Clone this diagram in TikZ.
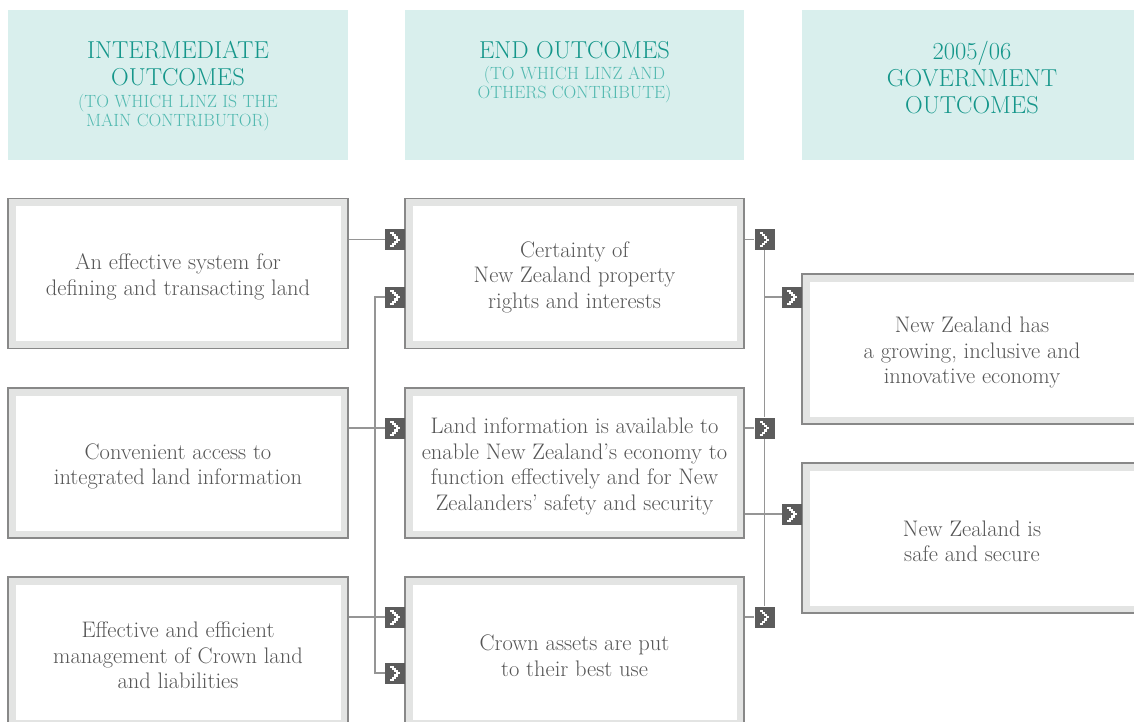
\documentclass[tikz,border=0pt]{standalone}
\usepackage{fontspec}
\usetikzlibrary{positioning}

\definecolor{headfill}{HTML}{D9EFED}
\definecolor{headtext}{HTML}{14968A}
\definecolor{subtext}{HTML}{52B9B0}
\definecolor{framegray}{HTML}{888888}
\definecolor{bandgray}{HTML}{E3E4E3}
\definecolor{bodytext}{HTML}{555555}
\definecolor{linkgray}{HTML}{959595}
\definecolor{markgray}{HTML}{5C5C5C}

\tikzset{
  header/.style={fill=headfill, minimum width=340pt, minimum height=150pt, inner sep=0pt},
  title/.style={anchor=north, inner sep=0pt, align=center, text=headtext,
    font=\fontsize{24.5}{27}\selectfont},
  subtitle/.style={anchor=north, inner sep=0pt, align=center, text=subtext,
    font=\fontsize{17.7}{19}\selectfont},
  % framed box: thin grey rule, light grey band, white inside
  outcome/.style={draw=framegray, line width=1.2pt, fill=bandgray,
    minimum width=340pt, minimum height=150pt,
    path picture={\fill[white]
      ([shift={(7.5pt,-7.5pt)}]path picture bounding box.north west) rectangle
      ([shift={(-7.5pt,7.5pt)}]path picture bounding box.south east);}},
  % the wording inside a box sits a little below its centre
  outtext/.style={align=center, text=bodytext, inner sep=0pt, yshift=-3.5pt,
    font=\fontsize{22.5}{25.5}\selectfont},
  % dark square with a stepped white chevron
  pointer/.style={fill=markgray, minimum width=20pt, minimum height=21pt, inner sep=0pt,
    path picture={\foreach \k/\dx in {0/0,1/1,2/2,3/3,4/2,5/1,6/0}
      \fill[white] ([shift={(5pt+2pt*\dx,-3pt-2.2pt*\k)}]path picture bounding box.north west)
        rectangle ++(3.5pt,-2.2pt);}},
  link/.style={draw=linkgray, line width=1.5pt}
}

\begin{document}
\begin{tikzpicture}[x=1pt, y=-1pt]
  \clip (0,0) rectangle (1134,722);

  % column headers
  \node[header] (h1) at (178,85) {};
  \node[header, minimum width=339pt] (h2) at (574.5,85) {};
  \node[header] (h3) at (972,85) {};
  \node[title, below=31pt of h1.north] (t1) {INTERMEDIATE\\OUTCOMES};
  \node[subtitle, below=84pt of h1.north] (s1) {(TO WHICH LINZ IS THE\\MAIN CONTRIBUTOR)};
  \node[title, below=31pt of h2.north] (t2) {END OUTCOMES};
  \node[subtitle, below=56.7pt of h2.north] (s2) {(TO WHICH LINZ AND\\OTHERS CONTRIBUTE)};
  \node[title, below=31pt of h3.north] (t3) {2005/06\\GOVERNMENT\\OUTCOMES};

  % intermediate outcomes
  \node[outcome] (i1) at (178,273.5) {};
  \node[outcome] (i2) at (178,463) {};
  \node[outcome] (i3) at (178,652) {};
  \node[outtext] (i1x) at (i1) {An effective system for\\defining and transacting land};
  \node[outtext] (i2x) at (i2) {Convenient access to\\integrated land information};
  \node[outtext] (i3x) at (i3) {Effective and efficient\\management of Crown land\\and liabilities};

  % end outcomes
  \node[outcome, minimum width=339pt] (e1) at (574.5,273.5) {};
  \node[outcome, minimum width=339pt] (e2) at (574.5,463) {};
  \node[outcome, minimum width=339pt] (e3) at (574.5,652) {};
  \node[outtext] (e1x) at (e1) {Certainty of\\New Zealand property\\rights and interests};
  \node[outtext] (e2x) at (e2) {Land information is available to\\enable New Zealand's economy to\\function effectively and for New\\Zealanders' safety and security};
  \node[outtext] (e3x) at (e3) {Crown assets are put\\to their best use};

  % government outcomes
  \node[outcome] (g1) at (972,349) {};
  \node[outcome] (g2) at (972,538) {};
  \node[outtext] (g1x) at (g1) {New Zealand has\\a growing, inclusive and\\innovative economy};
  \node[outtext] (g2x) at (g2) {New Zealand is\\safe and secure};

  % pointers into the end outcomes
  \node[pointer] (pa) at (395,239.5) {};
  \node[pointer] (pb) at (395,297) {};
  \node[pointer] (pc) at (395,428) {};
  \node[pointer] (pd) at (395,617) {};
  \node[pointer] (pe) at (395,673) {};
  % pointers out of the end outcomes
  \node[pointer] (qa) at (764.5,239.5) {};
  \node[pointer] (qb) at (764.5,428) {};
  \node[pointer] (qc) at (764.5,617) {};
  % pointers into the government outcomes
  \node[pointer] (ra) at (792,297) {};
  \node[pointer] (rb) at (792,514) {};

  % connectors, left side
  \draw[link] (i1.east |- pa) -- (pa.west);
  \draw[link] (i2.east |- pc) -- (pc.west);
  \draw[link] (i3.east |- pd) -- (pd.west);
  \draw[link] (pb.west) -- ++(-10,0) |- (pe.west);

  % connectors, right side
  \draw[link] (e1.east |- qa) -- (qa.west);
  \draw[link] (e2.east |- qb) -- (qb.west);
  \draw[link] (e3.east |- qc) -- (qc.west);
  \draw[link] (qa.south) -- (qb.north) (qb.south) -- (qc.north);
  \draw[link] (qa |- ra) -- (ra.west);
  \draw[link] (e2.east |- rb) -- (rb.west);
\end{tikzpicture}
\end{document}
